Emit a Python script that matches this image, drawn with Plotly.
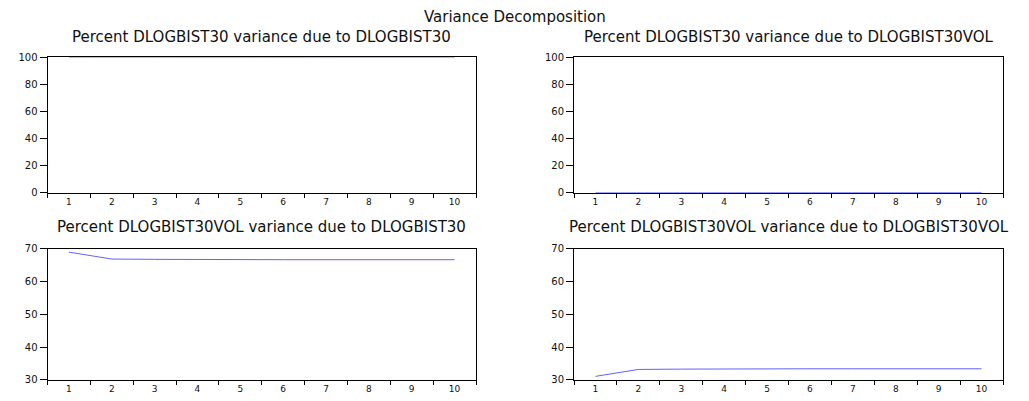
import plotly.graph_objects as go

periods = [1, 2, 3, 4, 5, 6, 7, 8, 9, 10]

# Percent DLOGBIST30 variance due to DLOGBIST30 / DLOGBIST30VOL
bist_due_bist = [100.0, 99.9, 99.9, 99.9, 99.9, 99.9, 99.9, 99.9, 99.9, 99.9]
bist_due_vol = [0.0, 0.1, 0.1, 0.1, 0.1, 0.1, 0.1, 0.1, 0.1, 0.1]
# Percent DLOGBIST30VOL variance due to DLOGBIST30 / DLOGBIST30VOL
vol_due_bist = [68.9, 66.8, 66.7, 66.6, 66.6, 66.6, 66.6, 66.6, 66.6, 66.6]
vol_due_vol = [31.1, 33.2, 33.3, 33.4, 33.4, 33.4, 33.4, 33.4, 33.4, 33.4]

panel_titles = [
    "Percent DLOGBIST30 variance due to DLOGBIST30",
    "Percent DLOGBIST30 variance due to DLOGBIST30VOL",
    "Percent DLOGBIST30VOL variance due to DLOGBIST30",
    "Percent DLOGBIST30VOL variance due to DLOGBIST30VOL",
]
main_title = "Variance Decomposition"
top_yticks = [0, 20, 40, 60, 80, 100]
bottom_yticks = [30, 40, 50, 60, 70]

W, H = 1029, 401
FONT = "DejaVu Sans"
line_color = "#6262ff"

def px_x(a, b):
    return [a / W, b / W]

def px_y(top, bottom):
    return [1 - bottom / H, 1 - top / H]

xl = px_x(47.5, 476)
xr = px_x(574, 1003)
yt = px_y(53, 192.5)
yb = px_y(250, 385.5)

panels = [
    (bist_due_bist, xl, yt, [0, 100], top_yticks),
    (bist_due_vol, xr, yt, [0, 100], top_yticks),
    (vol_due_bist, xl, yb, [30, 70], bottom_yticks),
    (vol_due_vol, xr, yb, [30, 70], bottom_yticks),
]

fig = go.Figure()
layout = dict(
    width=W, height=H,
    margin=dict(l=0, r=0, t=0, b=0),
    paper_bgcolor="white", plot_bgcolor="white",
    showlegend=False,
    font=dict(family=FONT, color="black"),
)
annotations = [dict(text=main_title, x=0.5, y=1 - 11 / H, xref="paper", yref="paper",
                    showarrow=False, xanchor="center", yanchor="middle",
                    font=dict(family=FONT, size=15, color="#111111"))]

for i, (vals, xd, yd, yr, yt_vals) in enumerate(panels):
    n = "" if i == 0 else str(i + 1)
    fig.add_trace(go.Scatter(x=periods, y=vals, mode="lines",
                             line=dict(color=line_color, width=1),
                             xaxis="x" + n, yaxis="y" + n, hoverinfo="skip"))
    layout["xaxis" + n] = dict(
        domain=xd, range=[0.5, 10.5], anchor="y" + n,
        tickvals=periods, ticktext=[str(p) for p in periods], ticks="",
        minor=dict(tickvals=[p + 0.5 for p in range(0, 11)], ticks="outside",
                   ticklen=4, tickcolor="black", tickwidth=1),
        showline=True, mirror=True, linecolor="black", linewidth=1,
        showgrid=False, zeroline=False,
        tickfont=dict(family=FONT, size=9, color="#111111"),
        fixedrange=True,
    )
    layout["yaxis" + n] = dict(
        domain=yd, range=yr, anchor="x" + n,
        tickvals=yt_vals, ticks="outside", ticklen=7, tickcolor="black",
        showline=True, mirror=True, linecolor="black", linewidth=1,
        showgrid=False, zeroline=False,
        tickfont=dict(family=FONT, size=10, color="#111111"),
        fixedrange=True,
    )
    cx = (xd[0] + xd[1]) / 2
    ty = (32 if i < 2 else 228)
    annotations.append(dict(text=panel_titles[i], x=cx, y=1 - ty / H,
                            xref="paper", yref="paper", showarrow=False,
                            xanchor="center", yanchor="middle",
                            font=dict(family=FONT, size=15, color="#111111")))

layout["annotations"] = annotations
fig.update_layout(**layout)
fig.write_html("out.html")
